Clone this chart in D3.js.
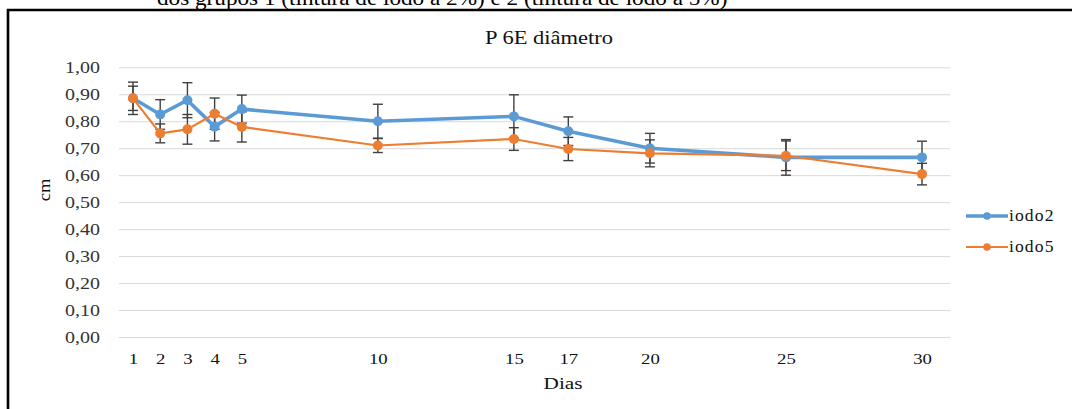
<!DOCTYPE html>
<html lang="pt">
<head>
  <meta charset="UTF-8">
  <title>P 6E diâmetro</title>
  <style>
    body { margin: 0; background: #fff; }
    svg { display: block; font-family: "Liberation Serif", "DejaVu Serif", serif; }
  </style>
</head>
<body>
  <div class="container"></div>
  <script src="https://d3js.org/d3.v7.min.js"></script>
  <script>
    // dados
    const dias = [1, 2, 3, 4, 5, 10, 15, 17, 20, 25, 30];
    const iodo2 = [0.885, 0.825, 0.878, 0.780, 0.845, 0.800, 0.818, 0.763, 0.700, 0.666, 0.666];
    const iodo2Err = [0.060, 0.055, 0.065, 0.053, 0.052, 0.063, 0.080, 0.053, 0.055, 0.066, 0.060];
    const iodo5 = [0.885, 0.755, 0.770, 0.828, 0.779, 0.710, 0.734, 0.697, 0.681, 0.672, 0.604];
    const iodo5Err = [0.045, 0.035, 0.055, 0.058, 0.056, 0.026, 0.042, 0.043, 0.050, 0.055, 0.040];
    const yTicks = [0, 0.1, 0.2, 0.3, 0.4, 0.5, 0.6, 0.7, 0.8, 0.9, 1.0];
    const xTicks = [1, 2, 3, 4, 5, 10, 15, 17, 20, 25, 30];

    const W = 1072, H = 409;
    const SX = 1.25; // o texto da imagem original está esticado na horizontal
    const fmt = v => v.toFixed(2).replace('.', ',');

    const series = [
      { name: 'iodo2', values: iodo2, err: iodo2Err, color: '#5B9BD5', width: 3.6 },
      { name: 'iodo5', values: iodo5, err: iodo5Err, color: '#ED7D31', width: 2.2 }
    ];

    const x = d3.scaleLinear().domain([1, 30]).range([133, 922]);
    const y = d3.scaleLinear().domain([0, 1]).range([337, 67.3]);

    const svg = d3.select('.container').append('svg')
      .attr('width', W).attr('height', H);

    function wideText(px, py, str, size, anchor, sx) {
      return svg.append('text')
        .attr('transform', `translate(${px},${py}) scale(${sx || SX},1)`)
        .attr('text-anchor', anchor || 'start')
        .style('font-size', size + 'px')
        .attr('fill', '#111')
        .text(str);
    }

    // texto do documento cortado no topo
    wideText(157, 5, 'dos grupos 1 (tintura de iodo a 2%) e 2 (tintura de iodo a 5%)', 20, 'start', 1.16)
      .attr('fill', '#000');

    // moldura
    svg.append('path')
      .attr('d', `M${W + 5},10 L8,10 L8,${H + 5}`)
      .attr('fill', 'none')
      .attr('stroke', '#000')
      .attr('stroke-width', 2.6);

    wideText(549, 44, 'P 6E diâmetro', 18, 'middle');

    // grade + eixo y
    const yAxis = d3.axisLeft(y).tickValues(yTicks).tickFormat(fmt)
      .tickSize(-(950 - 119)).tickPadding(19);
    const gy = svg.append('g').attr('transform', 'translate(119,0)').call(yAxis);
    gy.select('.domain').remove();
    gy.selectAll('line').attr('stroke', '#d9d9d9').attr('stroke-width', 1);
    gy.selectAll('text')
      .attr('fill', '#333')
      .style('font-size', '16px')
      .style('font-family', '"Liberation Serif", serif')
      .attr('x', function () { return +d3.select(this).attr('x') / SX; })
      .attr('transform', `scale(${SX},1)`);

    // eixo x (sem linhas)
    const xAxis = d3.axisBottom(x).tickValues(xTicks).tickFormat(d3.format('d'))
      .tickSize(0).tickPadding(16);
    const gx = svg.append('g').attr('transform', 'translate(0,337)').call(xAxis);
    gx.select('.domain').remove();
    gx.selectAll('text')
      .attr('fill', '#111')
      .style('font-size', '15px')
      .style('font-family', '"Liberation Serif", serif')
      .attr('transform', `scale(${SX},1)`);

    wideText(563, 389, 'Dias', 17, 'middle');

    svg.append('text')
      .attr('transform', 'translate(50,190) rotate(-90) scale(1.15,1)')
      .attr('text-anchor', 'middle')
      .style('font-size', '16px')
      .attr('fill', '#111')
      .text('cm');

    // barras de erro
    const cap = 5;
    series.forEach(s => {
      const g = svg.append('g').attr('stroke', '#404040').attr('stroke-width', 1.4);
      dias.forEach((d, i) => {
        const cx = x(d), top = y(s.values[i] + s.err[i]), bot = y(s.values[i] - s.err[i]);
        g.append('line').attr('x1', cx).attr('x2', cx).attr('y1', top).attr('y2', bot);
        g.append('line').attr('x1', cx - cap).attr('x2', cx + cap).attr('y1', top).attr('y2', top);
        g.append('line').attr('x1', cx - cap).attr('x2', cx + cap).attr('y1', bot).attr('y2', bot);
      });
    });

    const line = d3.line().x(d => x(d[0])).y(d => y(d[1]));

    series.forEach(s => {
      const pts = dias.map((d, i) => [d, s.values[i]]);
      svg.append('path')
        .datum(pts)
        .attr('d', line)
        .attr('fill', 'none')
        .attr('stroke', s.color)
        .attr('stroke-width', s.width)
        .attr('stroke-linejoin', 'round');
      svg.append('g').selectAll('circle')
        .data(pts)
        .enter()
        .append('circle')
        .attr('cx', d => x(d[0]))
        .attr('cy', d => y(d[1]))
        .attr('r', 5)
        .attr('fill', s.color);
    });

    // legenda
    series.forEach((s, i) => {
      const ly = 216 + i * 31;
      svg.append('line')
        .attr('x1', 966).attr('x2', 1008).attr('y1', ly).attr('y2', ly)
        .attr('stroke', s.color).attr('stroke-width', s.width);
      svg.append('circle').attr('cx', 987).attr('cy', ly).attr('r', 3.8).attr('fill', s.color);
      wideText(1009, ly + 5, s.name, 16, 'start', 1.1)
        .style('letter-spacing', '1px');
    });
  </script>
</body>
</html>
